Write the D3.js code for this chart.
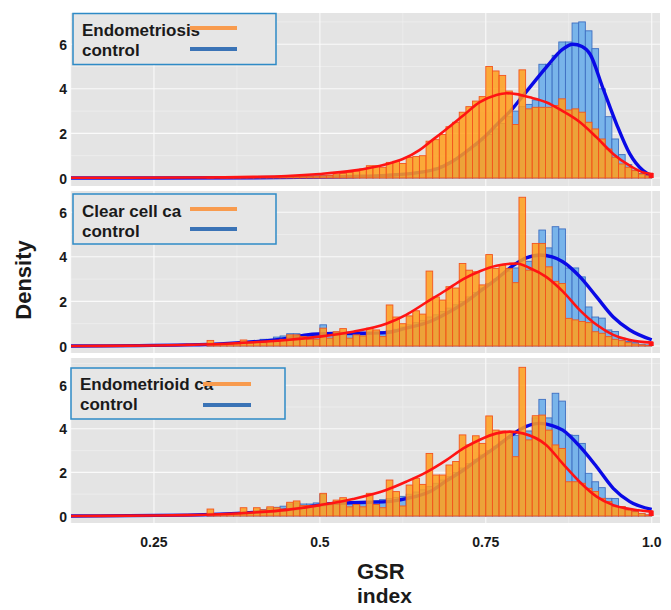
<!DOCTYPE html>
<html>
<head>
<meta charset="utf-8">
<script src="https://cdn.jsdelivr.net/npm/d3@7"></script>
<style>
  body { margin: 0; background: #fff; }
  text { font-family: 'Liberation Sans', Arial, sans-serif; font-weight: bold; }
</style>
</head>
<body>
<div id="chart"></div>
<script>
// bins are 0.01 wide, from 0.33 to 1.00 (left edges)
const binStarts = d3.range(33, 100).map(k => k / 100)

// panel 1: Endometriosis vs control
const endoCase = [
  0.02, 0.0, 0.02, 0.02, 0.03, 0.03, 0.03, 0.04, 0.04, 0.05, 0.05, 0.06, 0.06, 0.07, 0.08, 0.08, 0.09,
  0.1, 0.12, 0.18, 0.2, 0.25, 0.3, 0.4, 0.55, 0.55, 0.48, 0.7, 0.75, 0.65, 0.92, 0.96, 1.0, 1.65, 1.72,
  1.95, 2.3, 2.5, 2.95, 3.2, 3.45, 3.65, 5.0, 4.8, 4.6, 3.9, 2.4, 4.85, 3.1, 3.17, 3.17, 3.17, 3.25,
  3.55, 3.05, 3.1, 2.95, 2.5, 2.2, 1.75, 1.3, 0.93, 0.63, 0.48, 0.33, 0.18, 0.1
]
const endoCtrl = [
  0, 0, 0, 0, 0.01, 0.01, 0.01, 0.01, 0.02, 0.02, 0.02, 0.03, 0.03, 0.03, 0.04, 0.04, 0.04,
  0.05, 0.06, 0.06, 0.07, 0.08, 0.08, 0.1, 0.1, 0.12, 0.13, 0.15, 0.18, 0.2, 0.22, 0.26, 0.3, 0.36, 0.45,
  0.55, 0.7, 0.85, 1.05, 1.25, 1.45, 1.7, 1.95, 2.2, 2.45, 2.75, 3.0, 3.2, 3.3, 3.5, 5.1, 5.1, 5.5,
  6.1, 6.1, 6.95, 7.0, 6.6, 5.8, 4.0, 2.75, 1.75, 1.05, 0.6, 0.35, 0.2, 0.1
]
// panel 2: Clear cell ca vs control
const clearCase = [
  0.25, 0.08, 0.1, 0.08, 0.1, 0.27, 0.15, 0.15, 0.15, 0.2, 0.2, 0.3, 0.5, 0.5, 0.42, 0.3, 0.3,
  0.8, 0.35, 0.64, 0.78, 0.35, 0.5, 0.45, 0.8, 0.72, 0.42, 1.84, 1.3, 1.0, 1.35, 1.58, 1.43, 3.36, 2.2,
  2.06, 2.66, 2.6, 3.7, 3.4, 3.33, 2.74, 4.1, 3.48, 3.63, 3.48, 2.84, 6.67, 3.4, 4.6, 4.6, 3.55, 2.9,
  2.8, 1.24, 1.17, 1.1, 1.05, 0.64, 0.57, 0.42, 0.3, 0.24, 0.15, 0.09, 0.05, 0.02
]
const clearCtrl = [
  0.05, 0.08, 0.1, 0.12, 0.15, 0.15, 0.2, 0.25, 0.3, 0.3, 0.4, 0.45, 0.55, 0.55, 0.5, 0.45, 0.5,
  0.95, 0.55, 0.5, 0.55, 0.5, 0.55, 0.6, 0.55, 0.6, 0.65, 0.7, 0.75, 0.85, 0.95, 1.05, 1.15, 1.3, 1.4,
  1.55, 1.7, 1.85, 2.0, 2.2, 2.4, 2.6, 2.8, 3.0, 3.2, 3.35, 3.5, 3.6, 3.8, 4.0, 5.2, 4.4, 5.35,
  5.25, 3.5, 3.5, 3.1, 1.75, 1.3, 1.25, 0.72, 0.65, 0.35, 0.2, 0.15, 0.08, 0.05
]
// panel 3: Endometrioid ca vs control
const endoidCase = [
  0.32, 0.08, 0.1, 0.1, 0.12, 0.38, 0.15, 0.38, 0.28, 0.42, 0.38, 0.32, 0.63, 0.69, 0.48, 0.48, 0.45,
  1.04, 0.55, 0.73, 0.84, 0.42, 0.53, 0.42, 1.04, 0.53, 0.38, 1.65, 1.12, 0.46, 1.42, 1.73, 1.45, 2.87, 1.88,
  1.88, 2.34, 2.5, 3.72, 3.26, 3.68, 3.33, 4.59, 3.94, 3.9, 3.84, 2.72, 6.82, 3.49, 4.6, 4.63, 3.94, 3.26,
  3.1, 1.57, 1.57, 1.5, 1.27, 1.12, 0.81, 0.66, 0.43, 0.43, 0.28, 0.2, 0.12, 0.05
]
const endoidCtrl = [
  0.05, 0.08, 0.08, 0.1, 0.12, 0.15, 0.2, 0.25, 0.3, 0.35, 0.4, 0.45, 0.55, 0.6, 0.55, 0.55, 0.6,
  1.0, 0.6, 0.6, 0.65, 0.6, 0.65, 0.65, 0.65, 0.7, 0.75, 0.8, 0.85, 0.9, 1.0, 1.1, 1.2, 1.35, 1.5,
  1.65, 1.8, 2.0, 2.2, 2.4, 2.6, 2.8, 3.0, 3.2, 3.4, 3.55, 3.7, 3.8, 3.9, 4.5, 5.35, 4.5, 5.63,
  5.27, 3.72, 3.7, 3.33, 1.96, 1.57, 1.3, 0.81, 0.8, 0.43, 0.35, 0.2, 0.1, 0.05
]

// density curves as [GSR, density]
const endoCaseCurve = [
  [0.125, 0.01], [0.3, 0.02], [0.4, 0.05], [0.45, 0.09], [0.5, 0.18], [0.55, 0.33], [0.6, 0.62],
  [0.625, 0.85], [0.65, 1.25], [0.666, 1.62], [0.691, 2.2], [0.716, 2.8], [0.741, 3.4], [0.766, 3.72],
  [0.781, 3.8], [0.796, 3.76], [0.816, 3.62], [0.841, 3.4], [0.866, 3.0], [0.892, 2.5], [0.917, 1.82],
  [0.942, 1.08], [0.967, 0.55], [0.987, 0.25], [1.0, 0.18]
]
const endoCtrlCurve = [
  [0.125, 0], [0.4, 0.01], [0.5, 0.04], [0.55, 0.07], [0.6, 0.12], [0.65, 0.25], [0.68, 0.45],
  [0.7, 0.75], [0.73, 1.4], [0.75, 1.9], [0.77, 2.5], [0.79, 3.1], [0.805, 3.65], [0.82, 4.2],
  [0.841, 4.96], [0.866, 5.78], [0.881, 6.0], [0.895, 5.9], [0.907, 5.56], [0.926, 4.07],
  [0.947, 2.42], [0.967, 1.08], [0.987, 0.33], [1.0, 0.1]
]
const clearCaseCurve = [
  [0.125, 0], [0.25, 0.02], [0.3, 0.05], [0.349, 0.09], [0.4, 0.17], [0.45, 0.27], [0.5, 0.42],
  [0.55, 0.64], [0.6, 1.0], [0.63, 1.4], [0.66, 1.95], [0.69, 2.5], [0.716, 3.0], [0.741, 3.35],
  [0.766, 3.6], [0.796, 3.7], [0.816, 3.5], [0.841, 3.1], [0.866, 2.45], [0.892, 1.6], [0.917, 0.95],
  [0.942, 0.5], [0.967, 0.27], [1.0, 0.15]
]
const clearCtrlCurve = [
  [0.125, 0], [0.3, 0.05], [0.349, 0.09], [0.4, 0.19], [0.45, 0.34], [0.48, 0.5], [0.52, 0.56],
  [0.56, 0.57], [0.6, 0.6], [0.63, 0.8], [0.666, 1.1], [0.69, 1.45], [0.716, 1.9], [0.741, 2.45],
  [0.766, 3.0], [0.791, 3.6], [0.811, 3.95], [0.831, 4.08], [0.85, 4.0], [0.866, 3.78], [0.892, 3.1],
  [0.917, 2.2], [0.942, 1.3], [0.967, 0.72], [1.0, 0.28]
]
const endoidCaseCurve = [
  [0.125, 0], [0.25, 0.02], [0.3, 0.04], [0.349, 0.08], [0.4, 0.16], [0.45, 0.28], [0.5, 0.5],
  [0.55, 0.78], [0.6, 1.19], [0.63, 1.57], [0.66, 2.0], [0.69, 2.55], [0.716, 3.1], [0.741, 3.5],
  [0.766, 3.79], [0.786, 3.87], [0.806, 3.79], [0.841, 3.26], [0.866, 2.4], [0.892, 1.55],
  [0.917, 0.89], [0.942, 0.5], [0.967, 0.32], [1.0, 0.2]
]
const endoidCtrlCurve = [
  [0.125, 0], [0.3, 0.04], [0.349, 0.08], [0.4, 0.16], [0.45, 0.28], [0.5, 0.5], [0.52, 0.58],
  [0.56, 0.62], [0.6, 0.66], [0.63, 0.8], [0.666, 1.12], [0.69, 1.6], [0.716, 2.1], [0.741, 2.65],
  [0.766, 3.18], [0.794, 3.82], [0.81, 4.1], [0.831, 4.25], [0.85, 4.15], [0.866, 3.94], [0.892, 3.18],
  [0.917, 2.26], [0.942, 1.27], [0.967, 0.66], [1.0, 0.3]
]

const xTicks = [0.25, 0.5, 0.75, 1.0]
const xTickLabels = ['0.25', '0.5', '0.75', '1.0']
const yTicks = [0, 2, 4, 6]

const width = 671
const height = 610

const svg = d3
  .select('#chart')
  .append('svg')
  .attr('width', width)
  .attr('height', height)

const x = d3.scaleLinear().domain([0.125, 1.0125]).range([71, 660])

const panels = [
  {
    name: 'Endometriosis', cases: endoCase, ctrl: endoCtrl, caseCurve: endoCaseCurve, ctrlCurve: endoCtrlCurve,
    top: 13, bottom: 186, base: 178, unit: 22.3,
    legend: { x: 73, y: 13.5, w: 203, h: 51, tx: 82, l1: 28, l2: 49, lx: [190, 237], t1: 36, t2: 56 }
  },
  {
    name: 'Clear cell ca', cases: clearCase, ctrl: clearCtrl, caseCurve: clearCaseCurve, ctrlCurve: clearCtrlCurve,
    top: 191, bottom: 353, base: 346, unit: 22.3,
    legend: { x: 73, y: 194, w: 203, h: 50, tx: 82, l1: 209, l2: 229, lx: [190, 237], t1: 217, t2: 237 }
  },
  {
    name: 'Endometrioid ca', cases: endoidCase, ctrl: endoidCtrl, caseCurve: endoidCaseCurve, ctrlCurve: endoidCtrlCurve,
    top: 358, bottom: 523, base: 516, unit: 21.8,
    legend: { x: 71, y: 368, w: 214, h: 51, tx: 80, l1: 384, l2: 405, lx: [203, 251], t1: 390, t2: 410 }
  }
]

panels.forEach(p => {
  const y = d3
    .scaleLinear()
    .domain([-(p.bottom - p.base) / p.unit, (p.base - p.top) / p.unit])
    .range([p.bottom, p.top])

  const g = svg.append('g')

  g.append('rect')
    .attr('x', x.range()[0])
    .attr('y', p.top)
    .attr('width', x.range()[1] - x.range()[0])
    .attr('height', p.bottom - p.top)
    .attr('fill', '#e4e4e4')

  // grid: minor then major
  g.selectAll('.vminor')
    .data([0.125, 0.375, 0.625, 0.875])
    .enter()
    .append('line')
    .attr('x1', d => x(d)).attr('x2', d => x(d))
    .attr('y1', p.top).attr('y2', p.bottom)
    .attr('stroke', '#f2f2f2').attr('stroke-width', 0.6)
  g.selectAll('.hminor')
    .data([1, 3, 5, 7].filter(d => y(d) > p.top))
    .enter()
    .append('line')
    .attr('x1', x.range()[0]).attr('x2', x.range()[1])
    .attr('y1', d => y(d)).attr('y2', d => y(d))
    .attr('stroke', '#f2f2f2').attr('stroke-width', 0.6)
  g.selectAll('.vmajor')
    .data(xTicks)
    .enter()
    .append('line')
    .attr('x1', d => x(d)).attr('x2', d => x(d))
    .attr('y1', p.top).attr('y2', p.bottom)
    .attr('stroke', '#fafafa').attr('stroke-width', 1.1)
  g.selectAll('.hmajor')
    .data(yTicks)
    .enter()
    .append('line')
    .attr('x1', x.range()[0]).attr('x2', x.range()[1])
    .attr('y1', d => y(d)).attr('y2', d => y(d))
    .attr('stroke', '#fafafa').attr('stroke-width', 1.1)

  const bw = x(0.01) - x(0)

  // control histogram
  g.selectAll('.ctrl')
    .data(p.ctrl)
    .enter()
    .append('rect')
    .attr('x', (d, i) => x(binStarts[i]))
    .attr('y', d => y(d))
    .attr('width', bw)
    .attr('height', d => y(0) - y(d))
    .attr('fill', '#78b4ea')
    .attr('stroke', '#3e6fc2')
    .attr('stroke-width', 0.9)

  const line = d3
    .line()
    .x(d => x(d[0]))
    .y(d => y(d[1]))
    .curve(d3.curveMonotoneX)

  // control density (under the case bars)
  g.append('path')
    .attr('d', line(p.ctrlCurve))
    .attr('fill', 'none')
    .attr('stroke', '#0a0ae6')
    .attr('stroke-width', 3.4)

  // case histogram
  g.selectAll('.case')
    .data(p.cases)
    .enter()
    .append('rect')
    .attr('x', (d, i) => x(binStarts[i]))
    .attr('y', d => y(d))
    .attr('width', bw)
    .attr('height', d => y(0) - y(d))
    .attr('fill', '#ffa01c')
    .attr('fill-opacity', 0.86)
    .attr('stroke', '#f3541e')
    .attr('stroke-width', 0.9)

  // case density, dropped to the baseline at the end
  const last = p.caseCurve[p.caseCurve.length - 1]
  g.append('path')
    .attr('d', line(p.caseCurve) + 'L' + x(last[0]) + ',' + y(0))
    .attr('fill', 'none')
    .attr('stroke', '#ff1414')
    .attr('stroke-width', 2.6)
  g.append('rect')
    .attr('x', x(last[0]) - 3)
    .attr('y', y(last[1]) - 1)
    .attr('width', 5)
    .attr('height', y(0) - y(last[1]) + 1)
    .attr('fill', '#ff1414')

  // y tick labels
  g.selectAll('.ylab')
    .data(yTicks)
    .enter()
    .append('text')
    .attr('x', 67)
    .attr('y', d => y(d))
    .attr('dy', '0.4em')
    .attr('text-anchor', 'end')
    .attr('font-size', 14)
    .attr('fill', '#1a1a1a')
    .text(d => d)

  // legend
  const L = p.legend
  g.append('rect')
    .attr('x', L.x).attr('y', L.y)
    .attr('width', L.w).attr('height', L.h)
    .attr('fill', '#e6e6e6')
    .attr('stroke', '#2e8ac6')
    .attr('stroke-width', 1.5)
  g.append('text')
    .attr('x', L.tx).attr('y', L.t1)
    .attr('font-size', 17).attr('fill', '#1a1a1a')
    .text(p.name)
  g.append('text')
    .attr('x', L.tx).attr('y', L.t2)
    .attr('font-size', 17).attr('fill', '#1a1a1a')
    .text('control')
  g.append('line')
    .attr('x1', L.lx[0]).attr('x2', L.lx[1])
    .attr('y1', L.l1).attr('y2', L.l1)
    .attr('stroke', '#f89b4e').attr('stroke-width', 4)
  g.append('line')
    .attr('x1', L.lx[0]).attr('x2', L.lx[1])
    .attr('y1', L.l2).attr('y2', L.l2)
    .attr('stroke', '#3a73b6').attr('stroke-width', 4)
})

// x tick labels under the last panel
svg
  .selectAll('.xlab')
  .data(xTicks)
  .enter()
  .append('text')
  .attr('x', d => x(d))
  .attr('y', 547)
  .attr('text-anchor', 'middle')
  .attr('font-size', 14)
  .attr('fill', '#1a1a1a')
  .text((d, i) => xTickLabels[i])

svg
  .append('text')
  .attr('transform', 'translate(31,280) rotate(-90)')
  .attr('text-anchor', 'middle')
  .attr('font-size', 22)
  .attr('fill', '#1a1a1a')
  .text('Density')

svg.append('text').attr('x', 357).attr('y', 579).attr('font-size', 22).attr('fill', '#1a1a1a').text('GSR')
svg.append('text').attr('x', 357).attr('y', 603).attr('font-size', 21).attr('fill', '#1a1a1a').text('index')
</script>
</body>
</html>
